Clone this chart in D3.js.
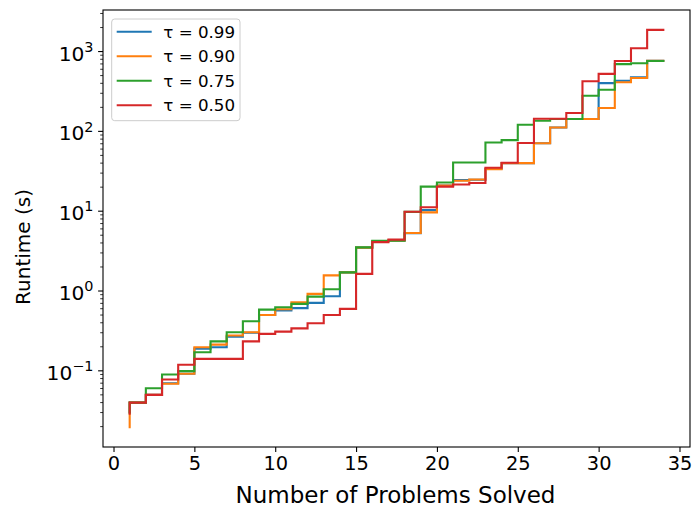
<!DOCTYPE html>
<html>
<head>
<meta charset="utf-8">
<script src="https://cdn.jsdelivr.net/npm/d3@7"></script>
<style>
  body { margin: 0; background: #fff; }
  svg { display: block; font-family: "DejaVu Sans", sans-serif; }
</style>
</head>
<body>
<svg id="chart" width="694" height="513"></svg>
<script>
// problems solved (x) and sorted runtimes in seconds for each tau
const problems = [1, 2, 3, 4, 5, 6, 7, 8, 9, 10, 11, 12, 13, 14, 15, 16, 17,
    18, 19, 20, 21, 22, 23, 24, 25, 26, 27, 28, 29, 30, 31, 32, 33, 34];

const tau099 = [0.03, 0.04, 0.05, 0.07, 0.092, 0.19, 0.197, 0.268, 0.30, 0.50, 0.57, 0.61,
    0.71, 0.86, 1.71, 3.5, 4.2, 4.3, 5.3, 10.3, 21, 24.5, 24.8, 34, 40, 40, 71, 112,
    143, 143, 402, 430, 475, 766];
const tau090 = [0.0197, 0.04, 0.05, 0.069, 0.092, 0.197, 0.213, 0.277, 0.304, 0.50, 0.59, 0.72,
    0.92, 1.57, 1.71, 3.5, 4.2, 4.3, 5.33, 9.67, 21, 24.1, 25, 33.7, 40, 40, 71, 112,
    143, 143, 196, 412, 466, 766];
const tau075 = [0.03, 0.04, 0.0605, 0.090, 0.099, 0.171, 0.234, 0.304, 0.418, 0.585, 0.625, 0.69,
    0.85, 1.05, 1.71, 3.52, 4.27, 4.27, 9.8, 20.3, 22.9, 40.8, 40.8, 72.6, 77.8, 121, 136, 143,
    143, 279, 332, 695, 714, 760];
const tau050 = [0.029, 0.04, 0.050, 0.078, 0.119, 0.141, 0.141, 0.141, 0.234, 0.29, 0.31, 0.34,
    0.394, 0.50, 0.597, 1.64, 4.1, 4.4, 9.86, 11.2, 20.3, 21.6, 22.6, 35, 40.5, 71.5, 144, 144,
    170, 425, 525, 760, 1100, 1870];

const seriesLabels = ["τ = 0.99", "τ = 0.90", "τ = 0.75", "τ = 0.50"];
const seriesColors = ["#1f77b4", "#ff7f0e", "#2ca02c", "#d62728"];
const xTicks = [0, 5, 10, 15, 20, 25, 30, 35];
const yTickExps = [-1, 0, 1, 2, 3];

const series = [tau099, tau090, tau075, tau050].map((vals, i) => ({
    label: seriesLabels[i],
    color: seriesColors[i],
    points: vals.map((v, j) => [problems[j], v])
}));

const svg = d3.select("#chart");
const margin = { top: 10, right: 4, bottom: 66, left: 103 };
const W = +svg.attr("width"), H = +svg.attr("height");
const plotW = W - margin.left - margin.right;
const plotH = H - margin.top - margin.bottom;

// matplotlib-like 5% margins (in log space for y)
const xMin = d3.min(problems), xMax = d3.max(problems);
const xPad = (xMax - xMin) * 0.05;
const allVals = [tau099, tau090, tau075, tau050].flat();
const lMin = Math.log10(d3.min(allVals)), lMax = Math.log10(d3.max(allVals));
const lPad = (lMax - lMin) * 0.05;

const x = d3.scaleLinear().domain([xMin - xPad, xMax + xPad]).range([0, plotW]);
const y = d3.scaleLog().domain([10 ** (lMin - lPad), 10 ** (lMax + lPad)]).range([plotH, 0]);

const g = svg.append("g").attr("transform", `translate(${margin.left},${margin.top})`);

// lines
const line = d3.line()
    .x(d => x(d[0]))
    .y(d => y(d[1]))
    .curve(d3.curveStepBefore);

g.selectAll("path.series").data(series).enter().append("path")
    .attr("class", "series")
    .attr("d", d => line(d.points))
    .attr("fill", "none")
    .attr("stroke", d => d.color)
    .attr("stroke-width", 2.1)
    .attr("stroke-linejoin", "miter")
    .attr("stroke-linecap", "square");

// x axis
const xAxis = d3.axisBottom(x).tickValues(xTicks).tickSize(4.9).tickPadding(4.4);
const gx = g.append("g").attr("transform", `translate(0,${plotH})`).call(xAxis);
gx.select(".domain").remove();
gx.selectAll("line").attr("stroke", "#000").attr("stroke-width", 1.1);
gx.selectAll("text").attr("font-size", 19.4).attr("fill", "#000")
    .attr("font-family", "DejaVu Sans");

// y axis: major + minor ticks
const [d0, d1] = y.domain();
const minorVals = [];
for (let e = Math.floor(Math.log10(d0)); e <= Math.ceil(Math.log10(d1)); e++) {
    for (let k = 2; k <= 9; k++) {
        const v = k * 10 ** e;
        if (v >= d0 && v <= d1) minorVals.push(v);
    }
}
g.append("g").selectAll("line").data(minorVals).enter().append("line")
    .attr("x1", -2.8).attr("x2", 0)
    .attr("y1", d => y(d)).attr("y2", d => y(d))
    .attr("stroke", "#000").attr("stroke-width", 0.8);

const majors = g.append("g").selectAll("g").data(yTickExps).enter().append("g")
    .attr("transform", d => `translate(0,${y(10 ** d)})`);
majors.append("line").attr("x1", -4.9).attr("x2", 0)
    .attr("stroke", "#000").attr("stroke-width", 1.1);
const yt = majors.append("text")
    .attr("x", -9.5).attr("dy", "0.45em")
    .attr("text-anchor", "end")
    .attr("font-size", 20.2).attr("fill", "#000");
yt.append("tspan").text("10");
yt.append("tspan").attr("font-size", 14.4).attr("dy", "-0.62em")
    .text(d => d < 0 ? "\u2212" + Math.abs(d) : d);

// frame
g.append("rect").attr("width", plotW).attr("height", plotH)
    .attr("fill", "none").attr("stroke", "#000").attr("stroke-width", 1.1);

// axis labels
svg.append("text")
    .attr("x", margin.left + plotW / 2 - 1).attr("y", 503)
    .attr("text-anchor", "middle").attr("font-size", 23).attr("fill", "#000")
    .text("Number of Problems Solved");
svg.append("text")
    .attr("transform", "translate(30,247) rotate(-90)")
    .attr("text-anchor", "middle").attr("font-size", 20).attr("fill", "#000")
    .text("Runtime (s)");

// legend
const lg = g.append("g").attr("transform", "translate(8.7,9)");
lg.append("rect").attr("width", 128.3).attr("height", 101.7).attr("rx", 3)
    .attr("fill", "#fff").attr("fill-opacity", 0.8)
    .attr("stroke", "#cccccc").attr("stroke-width", 1);
const items = lg.selectAll("g.item").data(series).enter().append("g")
    .attr("class", "item")
    .attr("transform", (d, i) => `translate(0,${12.7 + i * 24.5})`);
items.append("line").attr("x1", 5).attr("x2", 40)
    .attr("stroke", d => d.color).attr("stroke-width", 2.1);
items.append("text").attr("x", 51.6).attr("dy", "0.35em")
    .attr("font-size", 16.7).attr("fill", "#000")
    .text(d => d.label);
</script>
</body>
</html>
